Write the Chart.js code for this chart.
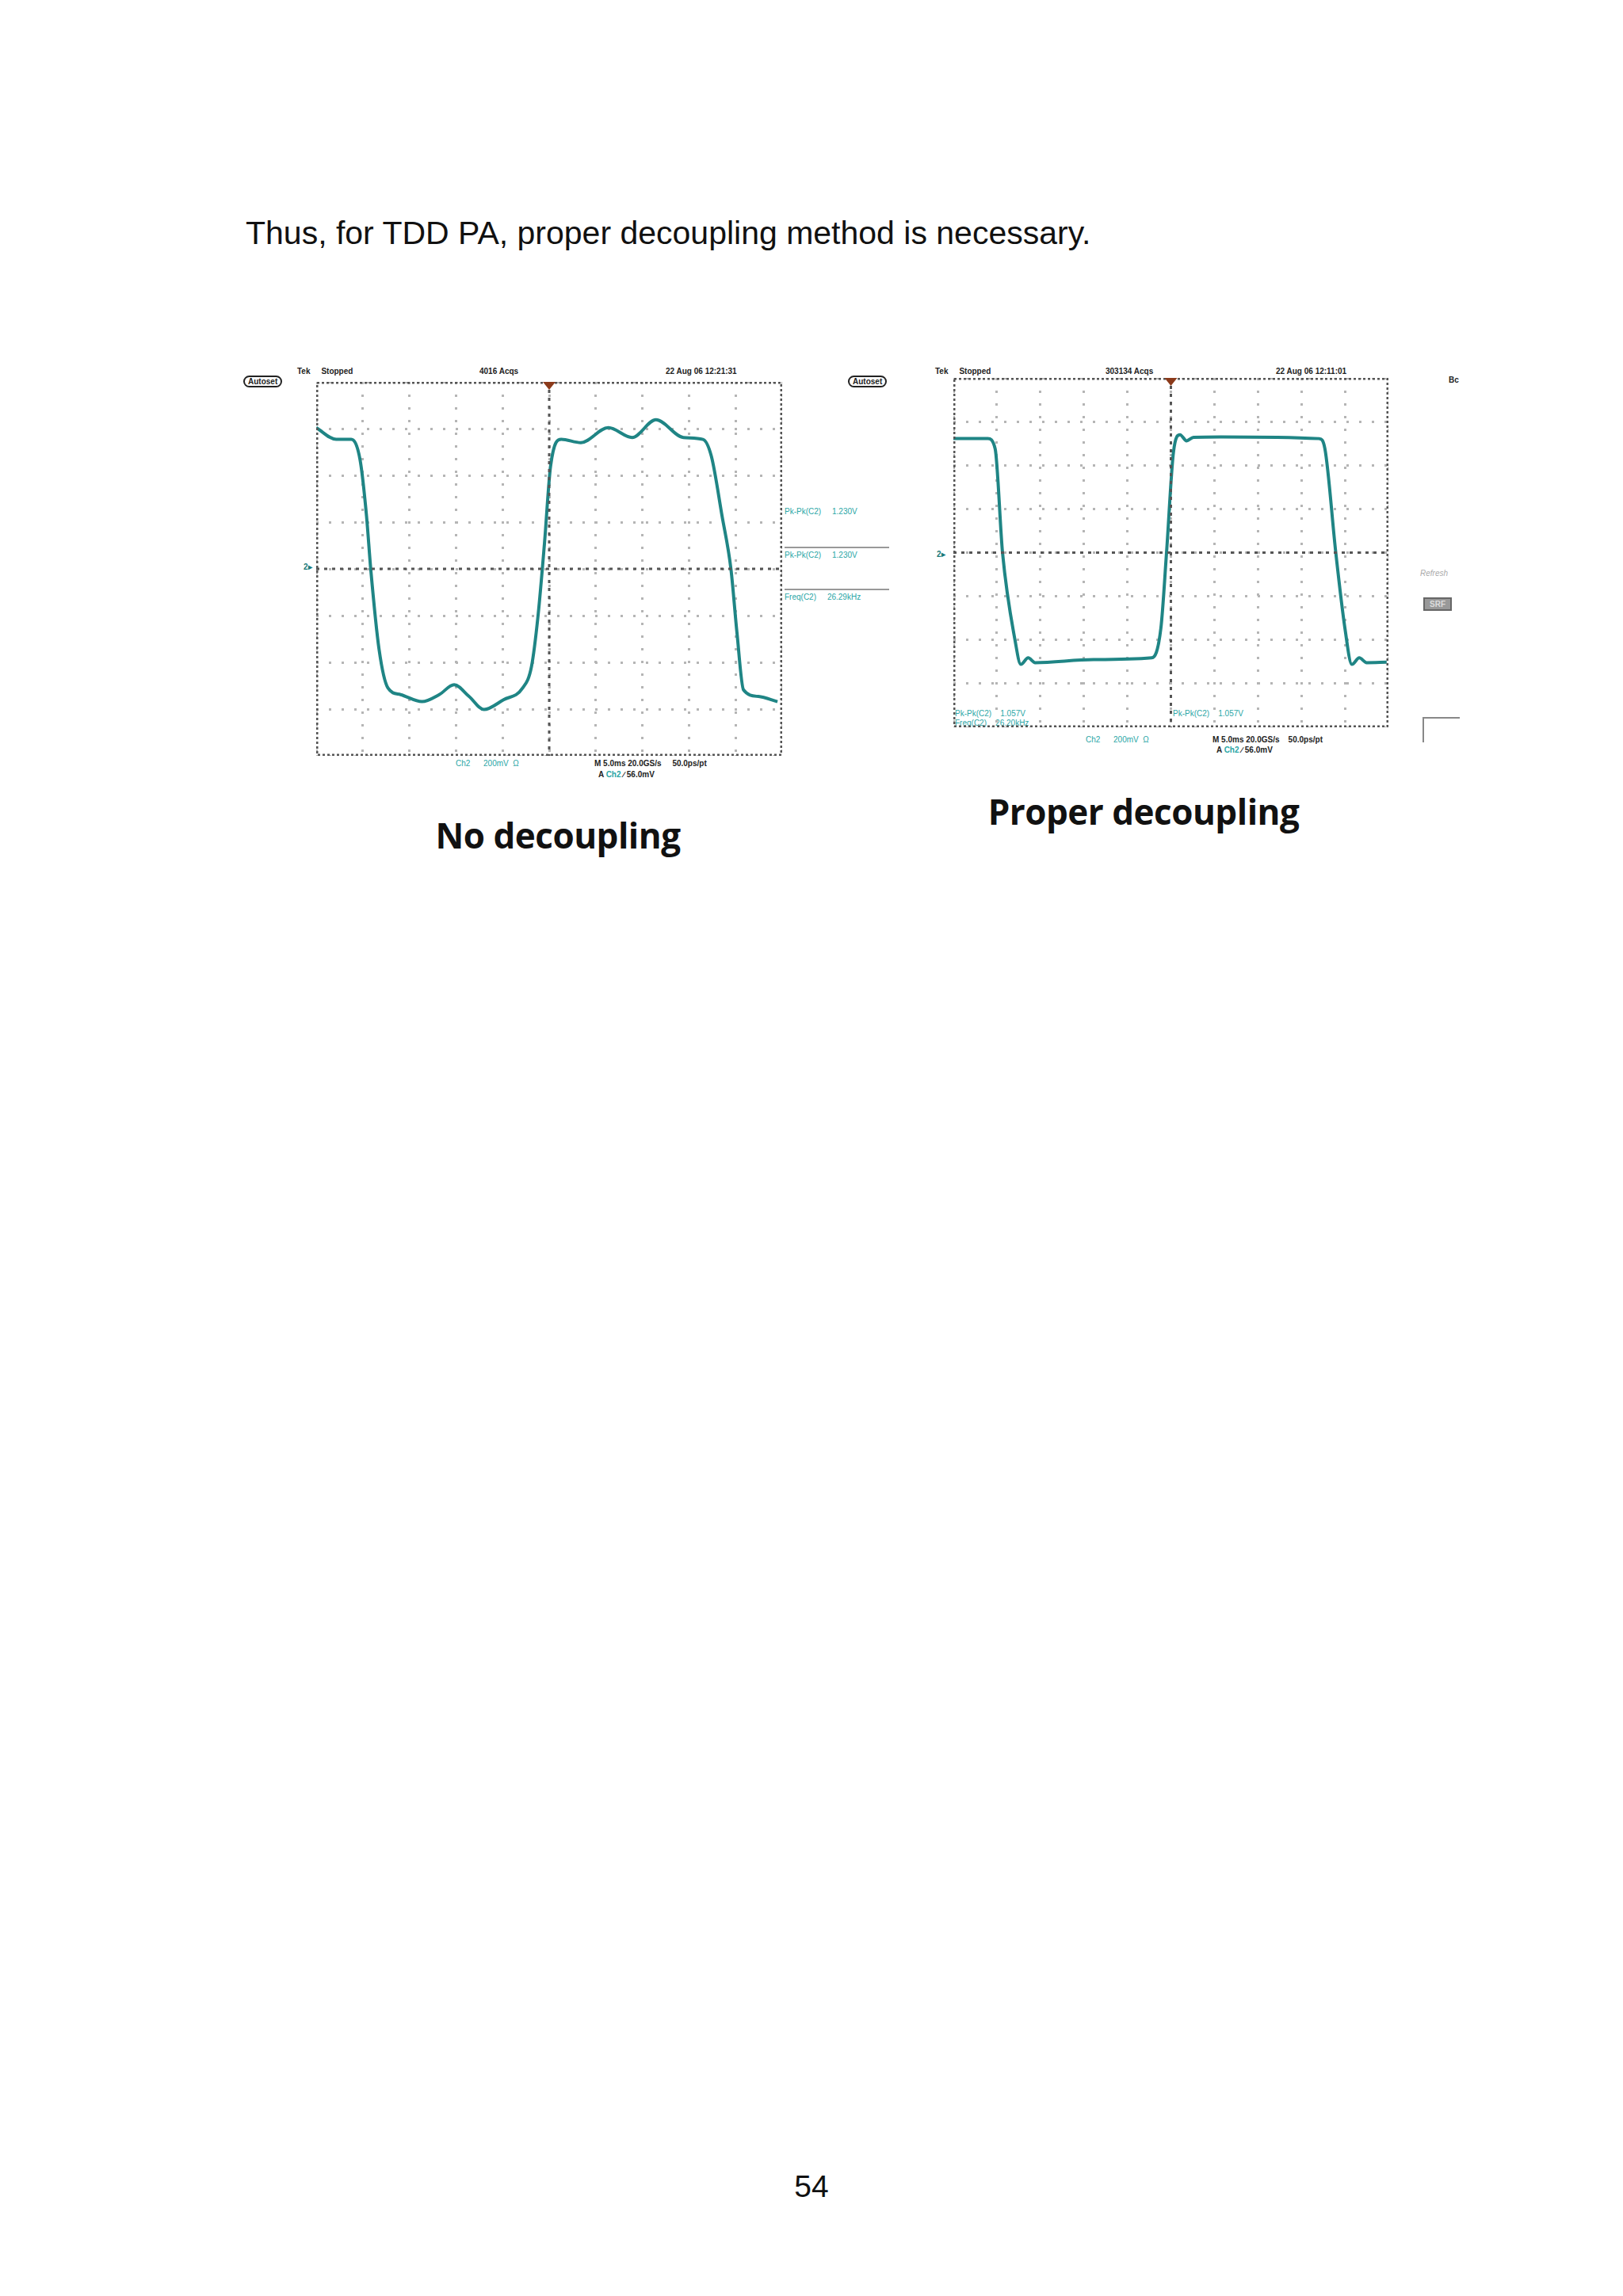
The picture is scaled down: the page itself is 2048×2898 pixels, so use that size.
<!DOCTYPE html>
<html><head><meta charset="utf-8">
<script src="https://cdn.jsdelivr.net/npm/chart.js@4/dist/chart.umd.min.js"></script>
<style>
body{margin:0;background:#fff;width:2048px;height:2898px;position:relative;font-family:"Liberation Sans",Arial,sans-serif;overflow:hidden}
.t{position:absolute;white-space:nowrap}
.c{position:absolute}
.s{position:absolute;font-size:10px;font-weight:bold;color:#222;white-space:nowrap}
.m{position:absolute;font-size:10px;color:#2aa6a6;white-space:nowrap}
</style></head><body>
<div class="t" style="left:310px;top:271px;font-size:41px;color:#111">Thus, for TDD PA, proper decoupling method is necessary.</div>
<div class="t" style="left:704px;top:1024px;font-size:44px;font-weight:bold;transform:translateX(-50%);font-family:'Open Sans',sans-serif;color:#111;letter-spacing:-0.5px">No decoupling</div>
<div class="t" style="left:1443px;top:994px;font-size:44px;font-weight:bold;transform:translateX(-50%);font-family:'Open Sans',sans-serif;color:#111;letter-spacing:-0.5px">Proper decoupling</div>
<div class="t" style="left:1024px;top:2738px;font-size:39px;transform:translateX(-50%);color:#111">54</div>

<div class="s" style="left:375px;top:463px">Tek&nbsp;&nbsp;&nbsp;&nbsp;&nbsp;Stopped</div>
<div class="s" style="left:605px;top:463px">4016 Acqs</div>
<div class="s" style="left:840px;top:463px">22 Aug 06 12:21:31</div>
<div class="s" style="left:307px;top:474px;border:2px solid #222;border-radius:8px;padding:0 4px">Autoset</div>
<div class="s" style="left:1070px;top:474px;border:2px solid #222;border-radius:8px;padding:0 4px">Autoset</div>
<div class="m" style="left:990px;top:640px">Pk-Pk(C2)&nbsp;&nbsp;&nbsp;&nbsp;&nbsp;1.230V</div>
<div class="m" style="left:990px;top:695px">Pk-Pk(C2)&nbsp;&nbsp;&nbsp;&nbsp;&nbsp;1.230V</div>
<div class="m" style="left:990px;top:748px">Freq(C2)&nbsp;&nbsp;&nbsp;&nbsp;&nbsp;26.29kHz</div>
<div style="position:absolute;left:990px;top:690px;width:132px;border-top:2px solid #999"></div>
<div style="position:absolute;left:990px;top:743px;width:132px;border-top:2px solid #999"></div>
<div class="m" style="left:575px;top:958px">Ch2&nbsp;&nbsp;&nbsp;&nbsp;&nbsp;&nbsp;200mV&nbsp;&nbsp;Ω</div>
<div class="s" style="left:750px;top:958px">M 5.0ms 20.0GS/s&nbsp;&nbsp;&nbsp;&nbsp;&nbsp;50.0ps/pt</div>
<div class="s" style="left:755px;top:972px">A <span style="color:#2aa6a6">Ch2</span> ∕ 56.0mV</div>
<div class="s" style="left:383px;top:710px;color:#1a7a7a">2▸</div>

<div class="s" style="left:1180px;top:463px">Tek&nbsp;&nbsp;&nbsp;&nbsp;&nbsp;Stopped</div>
<div class="s" style="left:1395px;top:463px">303134 Acqs</div>
<div class="s" style="left:1610px;top:463px">22 Aug 06 12:11:01</div>
<div class="s" style="left:1828px;top:474px">Bc</div>
<div class="m" style="left:1205px;top:895px">Pk-Pk(C2)&nbsp;&nbsp;&nbsp;&nbsp;1.057V</div>
<div class="m" style="left:1205px;top:907px">Freq(C2)&nbsp;&nbsp;&nbsp;&nbsp;26.20kHz</div>
<div class="m" style="left:1480px;top:895px">Pk-Pk(C2)&nbsp;&nbsp;&nbsp;&nbsp;1.057V</div>
<div class="m" style="left:1370px;top:928px">Ch2&nbsp;&nbsp;&nbsp;&nbsp;&nbsp;&nbsp;200mV&nbsp;&nbsp;Ω</div>
<div class="s" style="left:1530px;top:928px">M 5.0ms 20.0GS/s&nbsp;&nbsp;&nbsp;&nbsp;50.0ps/pt</div>
<div class="s" style="left:1535px;top:941px">A <span style="color:#2aa6a6">Ch2</span> ∕ 56.0mV</div>
<div class="s" style="left:1182px;top:694px;color:#1a7a7a">2▸</div>
<div class="s" style="left:1792px;top:718px;color:#aaa;font-weight:normal;font-style:italic">Refresh</div>
<div class="s" style="left:1796px;top:754px;background:#999;color:#ddd;border:2px solid #666;padding:1px 6px">SRF</div>
<div style="position:absolute;left:1795px;top:905px;width:45px;height:30px;border-left:2px solid #888;border-top:2px solid #888"></div>

<div class="c" style="left:399px;top:482px;width:588px;height:472px"><canvas id="c1"></canvas></div>
<div class="c" style="left:1203px;top:477px;width:549px;height:441px"><canvas id="c2"></canvas></div>
<script>
const noDecX=[0,0.43,0.75,0.94,1.08,1.17,1.35,1.54,1.81,2.27,2.64,2.96,3.28,3.6,4.02,4.43,4.62,4.76,4.9,5.03,5.26,5.68,6.27,6.78,7.29,7.88,8.3,8.48,8.71,8.9,9.03,9.17,9.49,9.9];
const noDecY=[3.02,2.77,2.77,2.34,1.13,0,-1.73,-2.55,-2.69,-2.84,-2.69,-2.48,-2.73,-3.01,-2.8,-2.55,-2.09,-1.01,0.56,2.2,2.77,2.7,3.02,2.81,3.19,2.81,2.77,2.41,1.13,0,-1.37,-2.59,-2.73,-2.84];
const decX=[0,0.79,0.96,1.13,1.42,1.55,1.72,1.88,3.22,4.56,4.77,4.9,5.06,5.21,5.36,5.52,6.15,8.41,8.54,8.79,9.0,9.16,9.33,9.5,9.96];
const decY=[2.61,2.61,2.38,0,-2.02,-2.56,-2.41,-2.52,-2.45,-2.41,-1.73,0,2.31,2.70,2.56,2.64,2.65,2.61,2.38,0,-1.73,-2.56,-2.41,-2.52,-2.51];
const xTicks=[0,1,2,3,4,5,6,7,8,9,10];
const yTicks=[-4,-3,-2,-1,0,1,2,3,4];
const frame={id:'frame',afterDraw(ch){const a=ch.chartArea,c=ch.ctx,xs=ch.scales.x,ys=ch.scales.y;c.save();
 c.strokeStyle='#555';c.lineWidth=3;c.setLineDash([3,3]);c.strokeRect(a.left+1,a.top+1,a.right-a.left-2,a.bottom-a.top-2);
 c.lineWidth=3;c.setLineDash([4,6]);const cx=xs.getPixelForValue(5),cy=ys.getPixelForValue(0);
 c.beginPath();c.moveTo(cx,a.top);c.lineTo(cx,a.bottom);c.moveTo(a.left,cy);c.lineTo(a.right,cy);c.stroke();
 c.fillStyle='#8b3a1a';c.setLineDash([]);c.beginPath();c.moveTo(cx-8,a.top);c.lineTo(cx+8,a.top);c.lineTo(cx,a.top+10);c.fill();c.restore();}};
function mk(id,X,Y){const data=X.map((x,i)=>({x,y:Y[i]}));
 const g={color:'#b5b5b5',lineWidth:3,drawTicks:false};
 new Chart(document.getElementById(id),{type:'scatter',data:{datasets:[{data,showLine:true,borderColor:'#1f8585',borderWidth:4,pointRadius:0,cubicInterpolationMode:'monotone'}]},
 options:{responsive:true,maintainAspectRatio:false,animation:false,layout:{padding:0},plugins:{legend:{display:false},tooltip:{enabled:false}},
 scales:{x:{type:'linear',min:0,max:10,afterBuildTicks:s=>{s.ticks=xTicks.map(v=>({value:v}))},ticks:{display:false},border:{display:false,dash:[3,13]},grid:g},
  y:{type:'linear',min:-4,max:4,afterBuildTicks:s=>{s.ticks=yTicks.map(v=>({value:v}))},ticks:{display:false},border:{display:false,dash:[3,13]},grid:g}}},
 plugins:[frame]});}
mk('c1',noDecX,noDecY);mk('c2',decX,decY);
</script>
</body></html>
